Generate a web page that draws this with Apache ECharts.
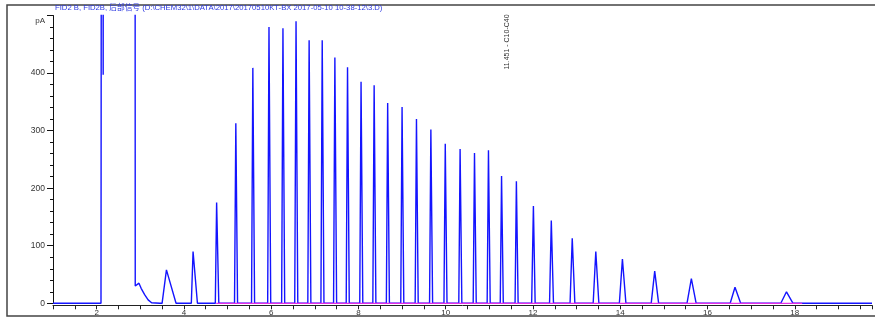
<!DOCTYPE html>
<html>
<head>
<meta charset="utf-8">
<script src="https://cdn.jsdelivr.net/npm/echarts@6/dist/echarts.min.js"></script>
<style>
  html, body { margin: 0; padding: 0; background: #fff; }
  #chart { width: 875px; height: 320px; }
</style>
</head>
<body>
<div id="chart"></div>
<script>
// Solvent region: trace goes off scale (clipped at 500 pA) and comes back.
const frontTimes = [1.0, 2.10, 2.13, 2.15, 2.165, 2.87, 2.885, 2.92, 2.97, 3.02, 3.10, 3.18, 3.26, 3.45];
const frontValues = [0, 0, 3000, 397, 3000, 3000, 30, 29, 35, 26, 15, 6, 1, 0];

// Resolved peaks: apex time, height (pA), where each starts and ends on the baseline
const peakTimes = [3.60, 4.21, 4.75, 5.19, 5.58, 5.95, 6.27, 6.57, 6.87, 7.17, 7.46, 7.75, 8.06, 8.36,
  8.67, 9.00, 9.33, 9.66, 9.99, 10.33, 10.66, 10.98, 11.28, 11.62, 12.01, 12.42, 12.90, 13.44,
  14.05, 14.79, 15.63, 16.63, 17.81];
const peakHeights = [58, 90, 175, 313, 409, 480, 478, 490, 457, 457, 427, 410, 385, 379,
  348, 341, 320, 302, 277, 268, 261, 266, 221, 212, 169, 144, 113, 90,
  77, 56, 43, 28, 20];
const peakStarts = [3.50, 4.17, 4.72, 5.16, 5.55, 5.92, 6.24, 6.54, 6.84, 7.14, 7.43, 7.72, 8.03, 8.33,
  8.64, 8.97, 9.30, 9.63, 9.96, 10.30, 10.63, 10.95, 11.25, 11.59, 11.97, 12.38, 12.85, 13.38,
  13.98, 14.71, 15.53, 16.52, 17.68];
const peakEnds = [3.82, 4.31, 4.80, 5.23, 5.62, 5.99, 6.31, 6.61, 6.91, 7.21, 7.50, 7.79, 8.10, 8.40,
  8.71, 9.04, 9.37, 9.70, 10.03, 10.37, 10.70, 11.02, 11.32, 11.66, 12.05, 12.47, 12.96, 13.51,
  14.13, 14.88, 15.74, 16.76, 17.96];
const runEnd = 19.77;

// integration baseline (magenta)
const baselineTimes = [4.74, 18.17];

const yTicks = [0, 100, 200, 300, 400];
const xLabels = [2, 4, 6, 8, 10, 12, 14, 16, 18];

const TITLE = "FID2 B, FID2B, 后部信号 (D:\\CHEM32\\1\\DATA\\2017\\20170510KT-BX 2017-05-10 10-38-12\\3.D)";
const PEAK_NOTE = "11.451 - C10-C40";

const FONT = "'Liberation Sans', Arial, 'Noto Sans CJK SC', sans-serif";
const TEXT = "#333";

const trace = frontTimes.map((t, i) => [t, frontValues[i]]);
peakTimes.forEach((t, i) => {
  trace.push([peakStarts[i], 0], [t, peakHeights[i]], [peakEnds[i], 0]);
});
trace.push([runEnd, 0]);

const chart = echarts.init(document.getElementById("chart"), null, { renderer: "canvas" });

chart.setOption({
  animation: false,
  backgroundColor: "#fff",
  title: {
    text: TITLE,
    left: 55,
    top: 4.5,
    padding: 0,
    textStyle: { fontSize: 7.7, fontWeight: "normal", color: "#2a36e0", fontFamily: FONT },
  },
  grid: { left: 53, right: 0, top: 15.5, bottom: 16.7 },
  xAxis: {
    type: "value",
    min: 1,
    max: runEnd,
    interval: 0.5,
    offset: 2,
    axisLine: { onZero: false, lineStyle: { color: "#222", width: 1 } },
    axisTick: { show: true, length: 4, lineStyle: { color: "#222" } },
    axisLabel: {
      interval: 0,
      margin: 3,
      fontSize: 8,
      color: TEXT,
      fontFamily: FONT,
      formatter: (v) => {
        const r = Math.round(v);
        return Math.abs(v - r) < 1e-6 && xLabels.includes(r) ? String(r) : "";
      },
    },
    splitLine: { show: false },
  },
  yAxis: {
    type: "value",
    min: 0,
    max: 500,
    interval: 100,
    name: "pA",
    nameLocation: "end",
    nameGap: -5,
    nameTextStyle: { fontSize: 8, color: TEXT, fontFamily: FONT, align: "right", verticalAlign: "middle", padding: [0, 8, 0, 0] },
    axisLine: { show: true, lineStyle: { color: "#111", width: 1 } },
    axisTick: { show: true, length: 6, lineStyle: { color: "#111" } },
    minorTick: { show: true, splitNumber: 5, length: 3, lineStyle: { color: "#111" } },
    axisLabel: {
      margin: 8,
      fontSize: 8.5,
      color: TEXT,
      fontFamily: FONT,
      formatter: (v) => (yTicks.includes(v) ? String(v) : ""),
    },
    splitLine: { show: false },
  },
  graphic: [
    {
      type: "rect",
      silent: true,
      z: -1,
      shape: { x: 7, y: 5, width: 900, height: 311 },
      style: { fill: "none", stroke: "#444", lineWidth: 1.5 },
    },
    {
      type: "text",
      x: 507,
      y: 42,
      rotation: Math.PI / 2,
      style: { text: PEAK_NOTE, fontSize: 7, fill: TEXT, font: "7px " + FONT, align: "center", verticalAlign: "middle" },
    },
  ],
  series: [
    {
      type: "line",
      data: trace,
      clip: true,
      symbol: "none",
      lineStyle: { color: "#1414ff", width: 1.4 },
      z: 2,
    },
    {
      type: "line",
      data: baselineTimes.map((t) => [t, 0]),
      symbol: "none",
      lineStyle: { color: "#e62ee6", width: 1.2 },
      z: 3,
    },
  ],
});
</script>
</body>
</html>
